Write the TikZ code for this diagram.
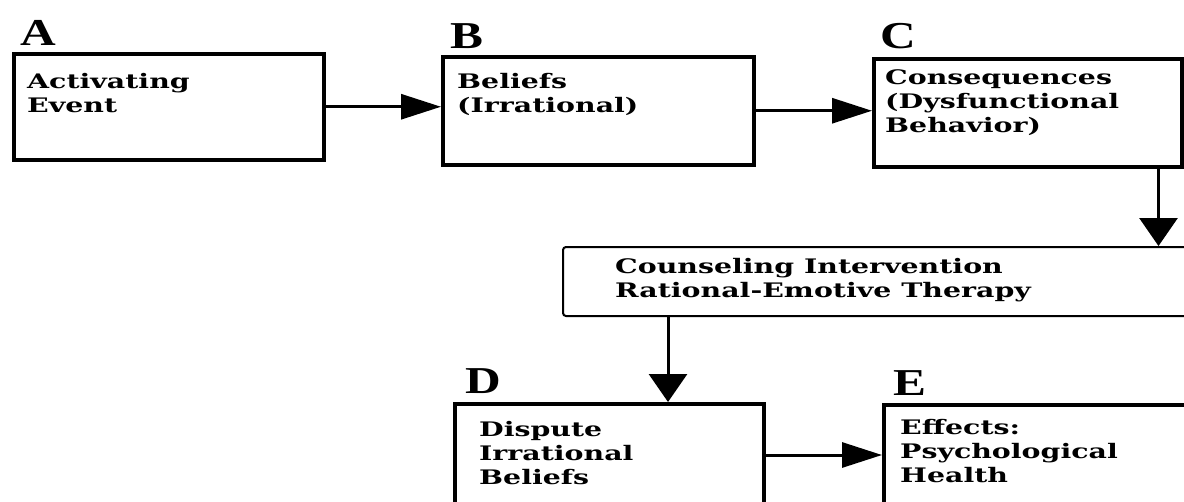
\documentclass[tikz,border=0pt]{standalone}
\usepackage{fontspec}
\usetikzlibrary{arrows.meta}
\newfontfamily\boxfont{DejaVu Serif}[FakeStretch=1.42]
\newfontfamily\labfont{Liberation Serif}[FakeStretch=1.3]
\begin{document}
\begin{tikzpicture}[x=1pt,y=-1pt,
  box/.style={draw, line width=3.5pt, inner sep=0pt, anchor=north west},
  cbox/.style={draw, line width=2pt, rounded corners=3pt, inner sep=0pt, anchor=north west},
  txt/.style={inner sep=0pt, anchor=base west, align=left, font={\boxfont\bfseries\fontsize{20}{24}\selectfont}},
  lab/.style={inner sep=0pt, anchor=base west, font={\labfont\bfseries\fontsize{38}{38}\selectfont}},
  conn/.style={line width=3pt},
  harr/.style={conn, -{Triangle[length=40pt,width=25pt]}},
  varr/.style={conn, -{Triangle[length=28pt,width=38pt]}}]
\useasboundingbox (0,0) rectangle (1184,501);
\clip (0,0) rectangle (1184,501);
% boxes
\node[box, minimum width=310pt, minimum height=106pt] (A) at (12,52) {};
\node[box, minimum width=311pt, minimum height=108pt] (B) at (441,55) {};
\node[box, minimum width=308pt, minimum height=108pt] (C) at (872,57) {};
\node[cbox, minimum width=640pt, minimum height=69pt] (Co) at (562,246) {};
\node[box, minimum width=309pt, minimum height=130pt] (D) at (453,402) {};
\node[box, minimum width=330pt, minimum height=130pt] (E) at (882,403) {};
% letters
\node[lab] (LA) at (20,45) {A};
\node[lab] (LB) at (450,48) {B};
\node[lab] (LC) at (880,48) {C};
\node[lab] (LD) at (465,393) {D};
\node[lab] (LE) at (893,395) {E};
% texts (anchored at the baseline of their last line)
\node[txt] (tA) at (27,112) {Activating\\Event};
\node[txt] (tB) at (457,112) {Beliefs\\(Irrational)};
\node[txt] (tC) at (885,132) {Consequences\\(Dysfunctional\\Behavior)};
\node[txt] (tCo) at (615,297) {Counseling Intervention\\Rational-Emotive Therapy};
\node[txt] (tD) at (479,484) {Dispute\\Irrational\\Beliefs};
\node[txt] (tE) at (900,482) {Effects:\\Psychological\\Health};
% connectors
\draw[harr] (A.east) -- (A.east -| B.west);
\draw[harr] (B.east) -- (B.east -| C.west);
\coordinate (cd) at ([xshift=-25pt]C.south east);
\draw[varr] (cd) -- (cd |- Co.north);
\coordinate (dt) at ([xshift=215pt]D.north west);
\draw[varr] (dt |- Co.south) -- (dt);
\coordinate (de) at ([yshift=-53pt]D.north east);
\draw[harr] (de) -- (de -| E.west);
\end{tikzpicture}
\end{document}
